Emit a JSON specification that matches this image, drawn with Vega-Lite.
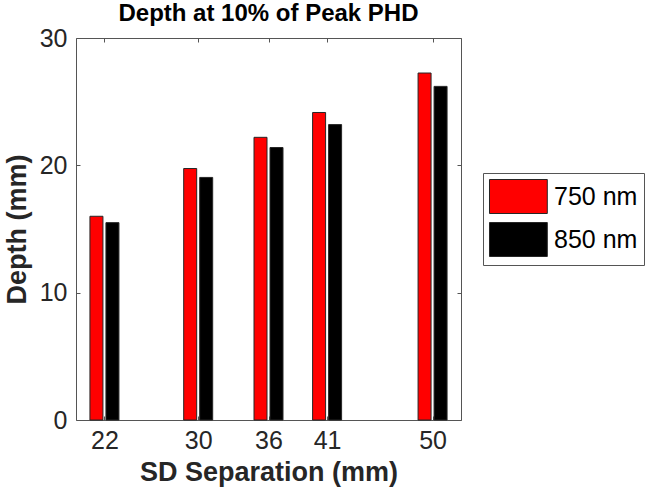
{
  "$schema": "https://vega.github.io/schema/vega-lite/v6.json",
  "width": 385,
  "height": 382,
  "autosize": "none",
  "padding": {"left": 76, "top": 38, "right": 195, "bottom": 73},
  "title": {"text": "Depth at 10% of Peak PHD", "font": "Liberation Sans", "fontSize": 24, "fontWeight": "bold", "color": "#000000", "offset": 0, "anchor": "middle"},
  "data": {"values": [
    {"sep": 22, "wavelength": "750 nm", "depth": 16.0},
    {"sep": 22, "wavelength": "850 nm", "depth": 15.5},
    {"sep": 30, "wavelength": "750 nm", "depth": 19.75},
    {"sep": 30, "wavelength": "850 nm", "depth": 19.05},
    {"sep": 36, "wavelength": "750 nm", "depth": 22.2},
    {"sep": 36, "wavelength": "850 nm", "depth": 21.4},
    {"sep": 41, "wavelength": "750 nm", "depth": 24.15},
    {"sep": 41, "wavelength": "850 nm", "depth": 23.2},
    {"sep": 50, "wavelength": "750 nm", "depth": 27.25},
    {"sep": 50, "wavelength": "850 nm", "depth": 26.2}
  ]},
  "layer": [
    {
      "transform": [{"filter": "datum.wavelength == '750 nm'"}],
      "mark": {"type": "bar", "width": 13, "xOffset": -8, "stroke": "#262626", "strokeWidth": 1},
      "encoding": {
        "x": {"field": "sep", "type": "quantitative", "scale": {"domain": [20, 52], "nice": false, "zero": false},
          "axis": {"values": [22, 30, 36, 41, 50], "title": "SD Separation (mm)", "grid": false, "domain": false, "tickSize": -4, "labelPadding": 12, "titlePadding": 6}},
        "y": {"field": "depth", "type": "quantitative", "scale": {"domain": [0, 30], "nice": false},
          "axis": {"values": [0, 10, 20, 30], "title": "Depth (mm)", "grid": false, "domain": false, "tickSize": -4, "labelPadding": 13, "titlePadding": 8}},
        "color": {"field": "wavelength", "type": "nominal", "scale": {"domain": ["750 nm", "850 nm"], "range": ["#ff0000", "#000000"]},
          "legend": {"title": null, "orient": "none", "legendX": 407, "legendY": 135, "symbolType": "M-1,-1L2.4,-1L2.4,1L-1,1Z", "symbolSize": 1156, "symbolStrokeColor": "#262626", "symbolStrokeWidth": 1, "symbolOpacity": 1, "labelFontSize": 25, "labelFont": "Liberation Sans", "labelColor": "#000000", "labelOffset": 30, "rowPadding": 4, "padding": 6, "strokeColor": "#555555", "fillColor": "#ffffff"}}
      }
    },
    {
      "transform": [{"filter": "datum.wavelength == '850 nm'"}],
      "mark": {"type": "bar", "width": 13, "xOffset": 8, "stroke": "#262626", "strokeWidth": 1},
      "encoding": {
        "x": {"field": "sep", "type": "quantitative", "axis": null},
        "y": {"field": "depth", "type": "quantitative", "axis": null},
        "color": {"field": "wavelength", "type": "nominal"}
      }
    },
    {
      "mark": {"type": "point", "opacity": 0},
      "encoding": {
        "x": {"field": "sep", "type": "quantitative", "axis": {"orient": "top", "values": [22, 30, 36, 41, 50], "labels": false, "title": null, "grid": false, "domain": false, "tickSize": -4}},
        "y": {"field": "depth", "type": "quantitative", "axis": {"orient": "right", "values": [0, 10, 20, 30], "labels": false, "title": null, "grid": false, "domain": false, "tickSize": -4}}
      }
    }
  ],
  "resolve": {"axis": {"x": "independent", "y": "independent"}},
  "config": {
    "view": {"stroke": "#555555", "strokeWidth": 1},
    "font": "Liberation Sans",
    "axis": {"labelFont": "Liberation Sans", "labelFontSize": 25, "labelColor": "#262626", "tickColor": "#555555", "titleFont": "Liberation Sans", "titleFontSize": 27, "titleFontWeight": "bold", "titleColor": "#262626"}
  }
}
